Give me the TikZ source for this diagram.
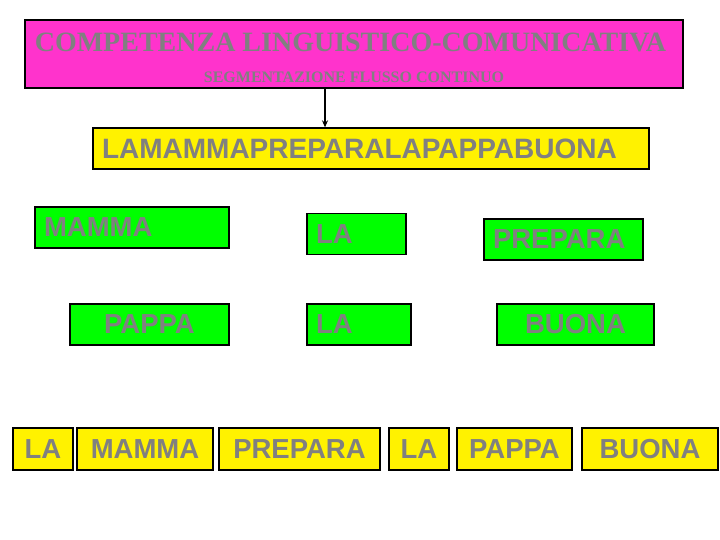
\documentclass[tikz,border=0pt]{standalone}
\usepackage{fontspec}
\setmainfont{Liberation Serif}
\setsansfont{Liberation Sans}
\usetikzlibrary{arrows.meta,positioning}
\definecolor{fuchsia}{HTML}{FF33CC}
\definecolor{wordgray}{HTML}{808080}
\definecolor{leafgreen}{HTML}{00FF00}

\begin{document}
\begin{tikzpicture}[
    x=1pt, y=-1pt,
    tile/.style={draw, line width=1.3pt, text=wordgray, inner xsep=9pt, inner ysep=0pt,
        minimum height=41pt, font=\sffamily\bfseries\fontsize{27.5}{30}\selectfont},
    greentile/.style={tile, fill=leafgreen},
    yellowtile/.style={tile, fill=yellow},
    arr/.style={-{Stealth[length=7pt,width=6pt]}, line width=2pt}
]
    \useasboundingbox (0,0) rectangle (720,540);

    % Header
    \node[draw, line width=1.3pt, fill=fuchsia, minimum width=658pt, minimum height=68pt, inner sep=0pt] (title) at (354,54) {};
    \node[text=wordgray, inner sep=0pt, font=\bfseries\fontsize{28}{30}\selectfont] (head) at (350.5,42) {COMPETENZA LINGUISTICO-COMUNICATIVA};
    \node[text=wordgray, inner sep=0pt, font=\bfseries\fontsize{16}{18}\selectfont] (sub) at (354,77.5) {SEGMENTAZIONE FLUSSO CONTINUO};

    % Continuous text
    \node[yellowtile, text width=538pt, align=left, font=\sffamily\bfseries\fontsize{28}{31}\selectfont] (flow) at (371,148.5) {LAMAMMAPREPARALAPAPPABUONA};
    \draw[arr] ([xshift=-29pt]title.south) -- ([xshift=-29pt]title.south |- flow.north);

    % Scattered words
    \node[greentile, text width=176pt, align=left] (g1) at (132,227.5) {MAMMA};
    \node[greentile, text width=81pt, align=left] (g2) at (356.5,234) {LA};
    \node[greentile, text width=141pt, align=left] (g3) at (563.5,239.5) {PREPARA};
    \node[greentile, minimum width=159pt] (g4) at (149.5,324.5) {PAPPA};
    \node[greentile, text width=86pt, align=left] (g5) at (359,324.5) {LA};
    \node[greentile, minimum width=157pt] (g6) at (575.5,324.5) {BUONA};

    % Segmented sentence
    \foreach \n/\x/\w/\t in {s1/43/60/LA, s2/145/136/MAMMA, s3/299.5/161/PREPARA,
        s4/419/60/LA, s5/514.5/115/PAPPA, s6/650/136/BUONA}
        \node[yellowtile, minimum width=\w pt, minimum height=42pt, inner xsep=0pt] (\n) at (\x,449) {\t};
\end{tikzpicture}
\end{document}
